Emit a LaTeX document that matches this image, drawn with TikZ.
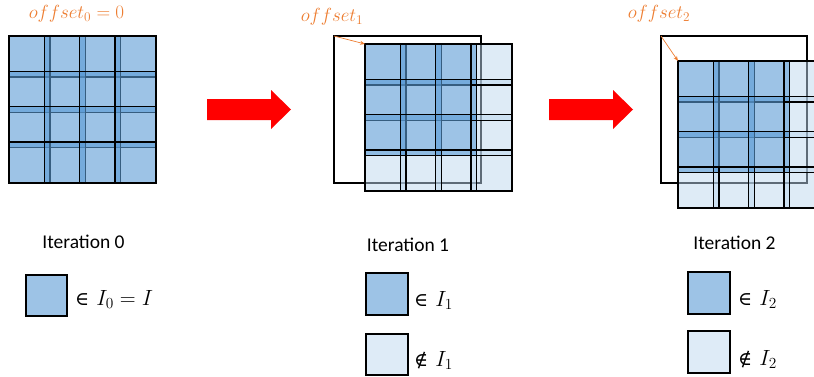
\RequirePackage{fix-cm}
\documentclass[tikz,border=0pt]{standalone}
\usepackage[no-math]{fontspec}
\setmainfont{Carlito}
\newfontfamily\legsym{DejaVu Serif}
\usetikzlibrary{arrows.meta}
\definecolor{tileblue}{RGB}{91,155,213}
\definecolor{tilelight}{RGB}{189,215,238}
\definecolor{legdark}{RGB}{157,195,230}
\definecolor{leglight}{RGB}{222,235,247}
\definecolor{offorange}{RGB}{237,125,49}
\definecolor{arrowred}{RGB}{255,0,0}
\tikzset{
  darktile/.style={draw=black, line width=1.2pt, fill=tileblue, fill opacity=0.6},
  lighttile/.style={draw=black, line width=1.2pt, fill=tilelight, fill opacity=0.5},
  tileedge/.style={draw=black, line width=1.2pt},
  framebox/.style={draw=black, line width=1.2pt},
  offarrow/.style={draw=offorange, line width=0.7pt, -{Stealth[length=5pt,width=4pt]}},
  offlabel/.style={text=offorange, font=\fontsize{19}{22}\selectfont},
  iterlabel/.style={font=\fontsize{19.5}{23}\selectfont},
  leglabel/.style={anchor=base west, font=\fontsize{22}{26}\selectfont, inner sep=0pt},
  legdarkbox/.style={draw=black, line width=1.2pt, fill=legdark},
  leglightbox/.style={draw=black, line width=1.2pt, fill=leglight},
  bigarrow/.style={fill=arrowred, draw=none}
}
\newcommand{\symin}{{\legsym\fontsize{19}{24}\selectfont ∈}\hspace{7pt}}
\newcommand{\symnotin}{{\legsym\fontsize{19}{24}\selectfont ∉}\hspace{7pt}}
% #1,#2 grid origin, #3 largest index of the tiles that are in the set
\newcommand{\tilegrid}[3]{%
  \foreach \j in {0,...,3}{\foreach \i in {0,...,3}{%
    \pgfmathtruncatemacro\isdark{and(\i<=#3,\j<=#3)}%
    \ifnum\isdark=0
      \draw[lighttile] ({#1+\i*35.33},{#2+\j*35.33}) rectangle +(41,41);
    \fi
  }}%
  \foreach \j in {0,...,3}{\foreach \i in {0,...,3}{%
    \pgfmathtruncatemacro\isdark{and(\i<=#3,\j<=#3)}%
    \ifnum\isdark=1
      \draw[darktile] ({#1+\i*35.33},{#2+\j*35.33}) rectangle +(41,41);
    \fi
  }}%
  \foreach \j in {0,...,3}{\foreach \i in {0,...,3}{%
    \pgfmathtruncatemacro\isdark{and(\i<=#3,\j<=#3)}%
    \ifnum\isdark=0
      \draw[tileedge] ({#1+\i*35.33},{#2+\j*35.33}) rectangle +(41,41);
    \fi
  }}%
}
\begin{document}
\begin{tikzpicture}[x=1pt,y=-1pt]
\useasboundingbox (0,0) rectangle (814,376);
\clip (0,0) rectangle (814,376);

% Iteration 0
\tilegrid{9}{36}{3}
\node[offlabel] (off0) at (76.5,14) {$offset_0=0$};

% Iteration 1
\coordinate (b1) at (334,36);
\draw[framebox] (b1) rectangle +(147,147);
\tilegrid{365}{44}{2}
\coordinate (g1) at (365,44);
\draw[offarrow] (b1) -- (g1);
\node[offlabel] (off1) at (332,17) {$offset_1$};

% Iteration 2
\coordinate (b2) at (661,36);
\draw[framebox] (b2) rectangle +(146,147);
\tilegrid{678}{61}{2}
\coordinate (g2) at (678,61);
\draw[offarrow] (b2) -- (g2);
\node[offlabel] (off2) at (659,14) {$offset_2$};

% red block arrows
\fill[bigarrow] (207,99) -- (271,99) -- (271,90) -- (291,109.5) -- (271,129) -- (271,120) -- (207,120) -- cycle;
\fill[bigarrow] (549,99) -- (613,99) -- (613,90) -- (633,109.5) -- (613,129) -- (613,120) -- (549,120) -- cycle;

% iteration labels
\node[iterlabel] (it0) at (83.5,241.5) {Iteration 0};
\node[iterlabel] (it1) at (408,244.5) {Iteration 1};
\node[iterlabel] (it2) at (734.5,243) {Iteration 2};

% legends
\draw[legdarkbox] (26,275) rectangle (67,316);
\node[leglabel] (l0) at (75,305) {\symin$I_0 = I$};

\draw[legdarkbox] (366,273) rectangle (408,315);
\node[leglabel] (l1a) at (414,306) {\symin$I_1$};
\draw[leglightbox] (366,334) rectangle (408,375);
\node[leglabel] (l1b) at (414,366) {\symnotin$I_1$};

\draw[legdarkbox] (688,272) rectangle (730,314);
\node[leglabel] (l2a) at (738,305) {\symin$I_2$};
\draw[leglightbox] (688,331) rectangle (730,373);
\node[leglabel] (l2b) at (738,365) {\symnotin$I_2$};
\end{tikzpicture}
\end{document}
